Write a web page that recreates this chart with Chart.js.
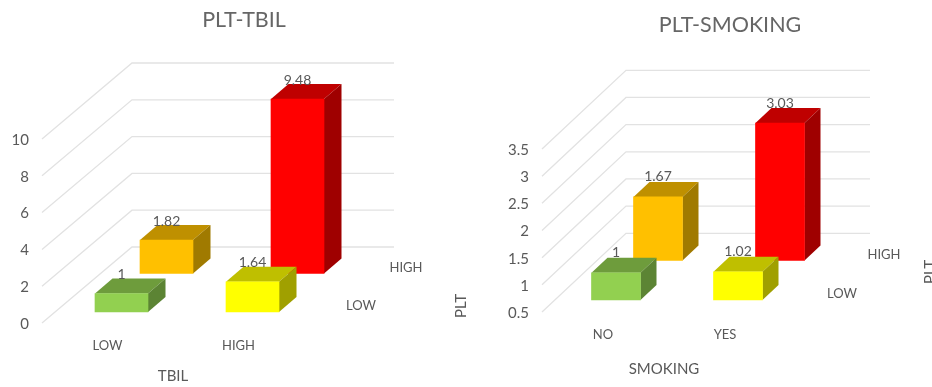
<!DOCTYPE html>
<html>
<head>
<meta charset="utf-8">
<title>PLT charts</title>
<script src="https://cdn.jsdelivr.net/npm/chart.js@4"></script>
<style>
    html, body { margin: 0; padding: 0; width: 932px; height: 387px; overflow: hidden; background: #fff; }
    .box { position: absolute; top: 0; height: 387px; }
    #tbil-box { left: 0; width: 488px; }
    #smoking-box { left: 500px; width: 460px; }
</style>
</head>
<body>
<div class="box" id="tbil-box"><canvas id="tbil-chart"></canvas></div>
<div class="box" id="smoking-box"><canvas id="smoking-chart"></canvas></div>
<script>
// Values
const depthLabels = ['LOW', 'HIGH'];

const tbilLabels = ['LOW', 'HIGH'];
const tbilFrontRow = [1, 1.64];
const tbilBackRow = [1.82, 9.48];

const smokingLabels = ['NO', 'YES'];
const smokingFrontRow = [1, 1.02];
const smokingBackRow = [1.67, 3.03];

// Face colours, one per bar
const frontRowFaces = ['#92D050', '#FFFF00'];
const frontRowTops = ['#6E9C3C', '#BFBF00'];
const frontRowSides = ['#5C8434', '#A0A000'];
const backRowFaces = ['#FFC000', '#FF0000'];
const backRowTops = ['#BF9000', '#BF0000'];
const backRowSides = ['#A07A00', '#9F0000'];

const textColor = '#595959';
const fontFamily = 'Lato, "Open Sans", sans-serif';

function polygon(ctx, points, color) {
    ctx.fillStyle = color;
    ctx.beginPath();
    points.forEach(function(p, i) {
        if (i === 0) ctx.moveTo(p[0], p[1]);
        else ctx.lineTo(p[0], p[1]);
    });
    ctx.closePath();
    ctx.fill();
}

// Fakes the 3D column look on top of a normal bar chart
const box3d = {
    id: 'box3d',
    // push every row back along the floor
    afterDatasetsUpdate(chart, args, opts) {
        chart.getSortedVisibleDatasetMetas().forEach(function(meta) {
            const row = opts.rows[meta.index];
            meta.data.forEach(function(bar) {
                bar.x += row.dx;
                bar.y -= row.dy;
                bar.base -= row.dy;
            });
        });
    },
    // gridlines run along the side wall, then along the back wall
    beforeDatasetsDraw(chart, args, opts) {
        const ctx = chart.ctx;
        const yScale = chart.scales.y;
        const area = chart.chartArea;
        ctx.save();
        ctx.strokeStyle = '#E2E2E2';
        ctx.lineWidth = 1.3;
        yScale.ticks.forEach(function(tick) {
            const y = yScale.getPixelForValue(tick.value);
            ctx.beginPath();
            ctx.moveTo(area.left, y);
            ctx.lineTo(area.left + opts.wallDx, y - opts.wallDy);
            ctx.lineTo(area.right + opts.wallDx, y - opts.wallDy);
            ctx.stroke();
        });
        ctx.restore();
    },
    // top and side faces go under the front face the library draws
    beforeDatasetDraw(chart, args, opts) {
        const ctx = chart.ctx;
        const dataset = chart.data.datasets[args.index];
        ctx.save();
        args.meta.data.forEach(function(bar, i) {
            const left = bar.x - bar.width / 2;
            const right = bar.x + bar.width / 2;
            const dx = opts.barDx;
            const dy = opts.barDy;
            polygon(ctx, [[left, bar.y], [left + dx, bar.y - dy], [right + dx, bar.y - dy], [right, bar.y]], dataset.topColors[i]);
            polygon(ctx, [[right, bar.y], [right + dx, bar.y - dy], [right + dx, bar.base - dy], [right, bar.base]], dataset.sideColors[i]);
        });
        ctx.restore();
    },
    // value labels, depth axis labels and the depth axis title
    afterDatasetsDraw(chart, args, opts) {
        const ctx = chart.ctx;
        const area = chart.chartArea;
        ctx.save();
        ctx.fillStyle = textColor;
        ctx.textAlign = 'center';
        ctx.textBaseline = 'middle';
        ctx.font = '14px ' + fontFamily;
        chart.getSortedVisibleDatasetMetas().forEach(function(meta) {
            meta.data.forEach(function(bar, i) {
                ctx.fillText(chart.data.datasets[meta.index].data[i], bar.x, bar.y - opts.labelGap);
            });
        });
        ctx.font = '13px ' + fontFamily;
        opts.rows.forEach(function(row, i) {
            ctx.fillText(depthLabels[i], area.right + row.dx + 43, area.bottom - row.dy - 6);
        });
        ctx.translate(opts.titleX, opts.titleY);
        ctx.rotate(-Math.PI / 2);
        ctx.font = '15px ' + fontFamily;
        ctx.fillText('PLT', 0, 0);
        ctx.restore();
    }
};

function drawChart(canvasId, cfg) {
    return new Chart(document.getElementById(canvasId).getContext('2d'), {
        type: 'bar',
        data: {
            labels: cfg.labels,
            datasets: [
                {
                    data: cfg.front,
                    backgroundColor: frontRowFaces,
                    topColors: frontRowTops,
                    sideColors: frontRowSides,
                    barThickness: cfg.barWidth,
                    base: cfg.min,
                    grouped: false,
                    clip: false
                },
                {
                    data: cfg.back,
                    backgroundColor: backRowFaces,
                    topColors: backRowTops,
                    sideColors: backRowSides,
                    barThickness: cfg.barWidth,
                    base: cfg.min,
                    grouped: false,
                    clip: false
                }
            ]
        },
        plugins: [box3d],
        options: {
            responsive: true,
            maintainAspectRatio: false,
            animation: false,
            plugins: {
                legend: { display: false },
                tooltip: { enabled: false },
                title: {
                    display: true,
                    text: cfg.title,
                    color: '#666666',
                    font: { family: fontFamily, size: 21.5, weight: 'normal', lineHeight: 1.2 },
                    padding: { top: cfg.titleTop, bottom: cfg.titleBottom }
                },
                box3d: cfg.box3d
            },
            scales: {
                x: {
                    grid: { display: false, drawTicks: false },
                    border: { display: false },
                    ticks: {
                        color: textColor,
                        padding: cfg.xTickPadding,
                        font: { family: fontFamily, size: 13 },
                        maxRotation: 0
                    },
                    title: {
                        display: true,
                        text: cfg.xTitle,
                        color: textColor,
                        font: { family: fontFamily, size: 15 },
                        padding: { top: 0, bottom: cfg.xTitleBottom }
                    },
                    afterFit: function(scale) { scale.height = cfg.xHeight; }
                },
                y: {
                    min: cfg.min,
                    max: cfg.max,
                    grid: { display: false, drawTicks: false },
                    border: { display: false },
                    ticks: {
                        stepSize: cfg.step,
                        color: textColor,
                        padding: 13,
                        labelOffset: 1,
                        font: { family: fontFamily, size: 15 },
                        callback: function(value) { return String(value); }
                    },
                    afterFit: function(scale) { scale.width = 42; }
                },
                // empty axis, only reserves the room the depth labels sit in
                depth: {
                    type: 'linear',
                    axis: 'y',
                    position: 'right',
                    grid: { display: false },
                    border: { display: false },
                    ticks: { display: false },
                    afterFit: function(scale) { scale.width = cfg.rightWidth; }
                }
            }
        }
    });
}

drawChart('tbil-chart', {
    title: 'PLT-TBIL',
    titleTop: 7,
    titleBottom: 106.2,
    labels: tbilLabels,
    front: tbilFrontRow,
    back: tbilBackRow,
    xTitle: 'TBIL',
    xTitleBottom: 2,
    xTickPadding: 15,
    xHeight: 64,
    rightWidth: 184,
    min: 0,
    max: 10,
    step: 2,
    barWidth: 53,
    box3d: {
        rows: [{ dx: 14, dy: 11 }, { dx: 59, dy: 49.5 }],
        wallDx: 90,
        wallDy: 76,
        barDx: 17.5,
        barDy: 15,
        labelGap: 19,
        titleX: 461,
        titleY: 306
    }
});

drawChart('smoking-chart', {
    title: 'PLT-SMOKING',
    titleTop: 12,
    titleBottom: 111.2,
    labels: smokingLabels,
    front: smokingFrontRow,
    back: smokingBackRow,
    xTitle: 'SMOKING',
    xTitleBottom: 9,
    xTickPadding: 15,
    xHeight: 75,
    rightWidth: 174,
    min: 0.5,
    max: 3.5,
    step: 0.5,
    barWidth: 49,
    box3d: {
        rows: [{ dx: 13, dy: 12 }, { dx: 55, dy: 51.5 }],
        wallDx: 84,
        wallDy: 78.7,
        barDx: 16,
        barDy: 15,
        labelGap: 20,
        titleX: 430,
        titleY: 272
    }
});
</script>
</body>
</html>
